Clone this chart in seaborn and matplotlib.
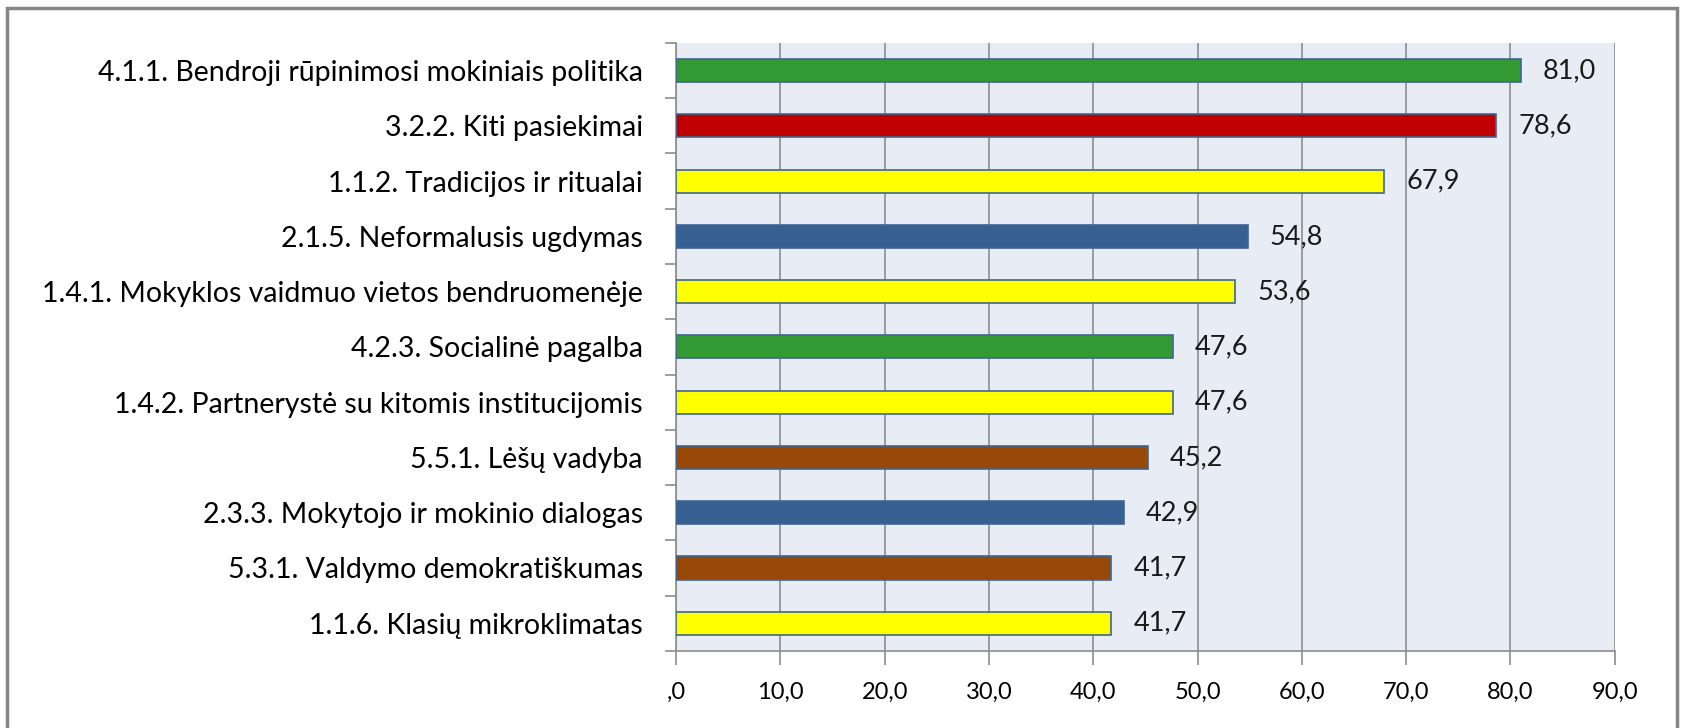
import matplotlib
matplotlib.use("Agg")
import numpy as np
import pandas as pd
import seaborn as sns
from matplotlib import pyplot as plt
from matplotlib.patches import Rectangle
from matplotlib.ticker import FixedLocator

# data
labels = ["4.1.1. Bendroji rūpinimosi mokiniais politika",
        "3.2.2. Kiti pasiekimai",
        "1.1.2. Tradicijos ir ritualai",
        "2.1.5. Neformalusis ugdymas",
        "1.4.1. Mokyklos vaidmuo vietos bendruomenėje",
        "4.2.3. Socialinė pagalba",
        "1.4.2. Partnerystė su kitomis institucijomis",
        "5.5.1. Lėšų vadyba",
        "2.3.3. Mokytojo ir mokinio dialogas",
        "5.3.1. Valdymo demokratiškumas",
        "1.1.6. Klasių mikroklimatas"]
values = [81.0, 78.6, 67.9, 54.8, 53.6, 47.6, 47.6, 45.2, 42.9, 41.7, 41.7]
bar_colors = ["#339933", "#C00000", "#FFFF00", "#376092", "#FFFF00", "#339933",
        "#FFFF00", "#984807", "#376092", "#984807", "#FFFF00"]
x_ticks = [0, 10, 20, 30, 40, 50, 60, 70, 80, 90]
x_ticklabels = [",0", "10,0", "20,0", "30,0", "40,0", "50,0", "60,0", "70,0", "80,0", "90,0"]

df = pd.DataFrame({"label": labels, "value": values})

plt.rcParams['font.family'] = ['Lato', 'DejaVu Sans']

fig = plt.figure(figsize=(16.82, 7.28), dpi=100)
ax = fig.add_axes([0.402, 0.106, 0.558, 0.835])

sns.barplot(data=df, x="value", y="label", hue="label", palette=bar_colors,
        legend=False, width=0.42, edgecolor="#3F6593", linewidth=1.2,
        saturation=1, ax=ax, zorder=3)

ax.set_facecolor("#E8ECF4")
ax.set_xlim(0, 90)
ax.set_ylim(len(labels) - 0.5, -0.5)
ax.set_xticks(x_ticks)
ax.set_xticklabels(x_ticklabels, fontsize=17)
ax.tick_params(axis="x", length=10, width=1.2, color="#8C8C8C", pad=12)
ax.tick_params(axis="y", which="major", length=0, pad=24, labelsize=20.5)
ax.yaxis.set_minor_locator(FixedLocator(np.arange(-0.5, len(labels), 1)))
ax.tick_params(axis="y", which="minor", length=8, width=1.2, color="#8C8C8C")
ax.set_xlabel("")
ax.set_ylabel("")
ax.grid(axis="x", color="#8C8C8C", linewidth=1.2, zorder=0)
ax.set_axisbelow(True)
for side in ["top", "right"]:
        ax.spines[side].set_visible(False)
for side in ["left", "bottom"]:
        ax.spines[side].set_color("#8C8C8C")
        ax.spines[side].set_linewidth(1.2)

# value labels with decimal comma
for cont, v in zip(ax.containers, values):
        ax.bar_label(cont, labels=[f"{v:.1f}".replace(".", ",")],
                padding=16, fontsize=19.5, color="#1A1A1A")

# outer chart frame
fig.patches.append(Rectangle((7 / 1682, -0.05), 1670 / 1682, 1.05 - 8 / 728,
        transform=fig.transFigure, fill=False, edgecolor="#868686",
        linewidth=2.5))

fig.savefig("out.png", dpi=100, facecolor="white")
